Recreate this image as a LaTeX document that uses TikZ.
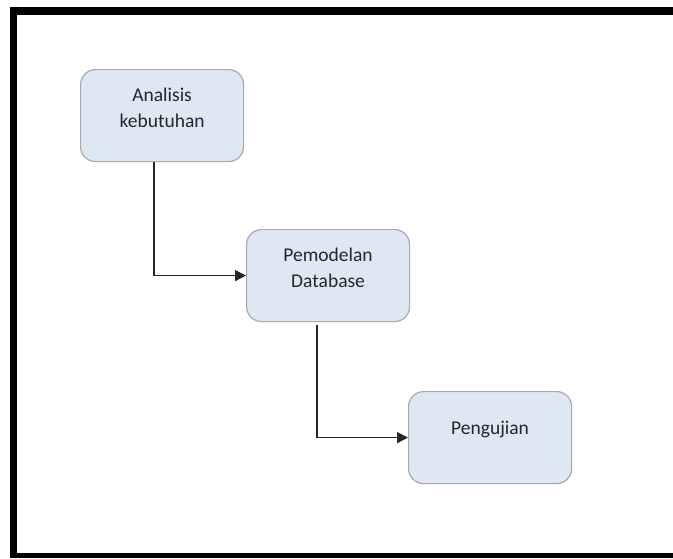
\documentclass[tikz,border=0pt]{standalone}
\usepackage{fontspec}
\setmainfont{Carlito}
\usetikzlibrary{arrows.meta}
\definecolor{boxfill}{HTML}{DEE8F5}
\definecolor{boxline}{HTML}{A9A9A9}
\definecolor{txt}{HTML}{262626}
\tikzset{
  stepbox/.style={draw=boxline, line width=1.2pt, fill=boxfill, rounded corners=15pt,
    minimum width=163pt, minimum height=92pt, inner sep=0pt, anchor=north west},
  steptext/.style={font=\fontsize{19.5pt}{26pt}\selectfont, text=txt, align=center},
  flow/.style={draw=black!85, line width=1.5pt, -{Triangle[length=11pt,width=11pt]}}
}
\begin{document}
\begin{tikzpicture}[x=1pt,y=-1pt]
\useasboundingbox (0,0) rectangle (673,558);
% frame
\fill[black] (10,7) rectangle (673,15);
\fill[black] (10,7) rectangle (17,558);
\fill[black] (10,553) rectangle (673,558);
% boxes
\node[stepbox] (a) at (80,69) {};
\node[stepbox] (b) at (246,229) {};
\node[stepbox] (c) at (408,391) {};
\node[steptext] (ta) at ([yshift=8pt]a.center) {Analisis\\kebutuhan};
\node[steptext] (tb) at ([yshift=8pt]b.center) {Pemodelan\\Database};
\node[steptext] (tc) at ([yshift=8pt]c.center) {Pengujian};
% connectors
\coordinate (s2) at (317,325);
\draw[flow] (a.south -| 154,0) |- (b.west);
\draw[flow] (s2) |- (c.west);
\end{tikzpicture}
\end{document}
